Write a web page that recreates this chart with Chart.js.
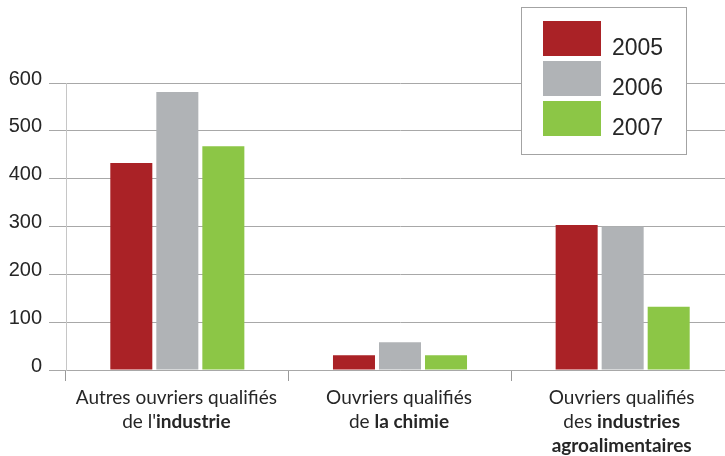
<!DOCTYPE html>
<html>
<head>
<meta charset="utf-8">
<script src="https://cdn.jsdelivr.net/npm/chart.js@4"></script>
<style>
  html, body { margin: 0; padding: 0; background: #fff; overflow: hidden; }
  #wrap { width: 736px; height: 456px; }
</style>
</head>
<body>
<div id="wrap"><canvas id="chart"></canvas></div>
<script>
// categories, bold parts between *stars*
const categories = [
    ["Autres ouvriers qualifiés", "de l'*industrie*"],
    ["Ouvriers qualifiés", "de *la chimie*"],
    ["Ouvriers qualifiés", "des *industries*", "*agroalimentaires*"]
];
const years = ['2005', '2006', '2007'];
const values2005 = [433, 31, 303];
const values2006 = [581, 58, 300];
const values2007 = [468, 31, 132];
const yTicks = [0, 100, 200, 300, 400, 500, 600];
const colors = ['#aa2226', '#b0b3b6', '#8cc646'];

const labelFont = 'Lato, "Open Sans", sans-serif';
const textColor = '#262626';

// draws the category labels with mixed regular / bold parts
const categoryLabels = {
    id: 'categoryLabels',
    afterDraw(chart) {
        const ctx = chart.ctx;
        const xScale = chart.scales.x;
        ctx.save();
        ctx.fillStyle = textColor;
        ctx.textBaseline = 'alphabetic';
        ctx.textAlign = 'left';
        categories.forEach((lines, i) => {
            const cx = xScale.getPixelForValue(i) - 1;
            lines.forEach((line, k) => {
                const parts = line.split('*').map((t, j) => ({ text: t, bold: j % 2 === 1 })).filter(p => p.text);
                let total = 0;
                parts.forEach(p => {
                    ctx.font = (p.bold ? 'bold ' : '') + '19px ' + labelFont;
                    p.w = ctx.measureText(p.text).width;
                    total += p.w;
                });
                let x = cx - total / 2;
                const y = xScale.top + 34 + k * 24;
                parts.forEach(p => {
                    ctx.font = (p.bold ? 'bold ' : '') + '19px ' + labelFont;
                    ctx.fillText(p.text, x, y);
                    x += p.w;
                });
            });
        });
        ctx.restore();
    }
};

// boxed legend top right
const boxLegend = {
    id: 'boxLegend',
    afterDraw(chart) {
        const ctx = chart.ctx;
        ctx.save();
        ctx.fillStyle = '#fff';
        ctx.fillRect(521, 7, 165, 147);
        ctx.strokeStyle = '#a3a3a3';
        ctx.lineWidth = 1;
        ctx.strokeRect(521.5, 7.5, 165, 147);
        ctx.font = '23px "Liberation Sans", Arial, sans-serif';
        ctx.textBaseline = 'alphabetic';
        chart.data.datasets.forEach((ds, i) => {
            const top = 21 + i * 40;
            ctx.fillStyle = ds.backgroundColor;
            ctx.fillRect(543, top, 58, 35);
            ctx.fillStyle = textColor;
            ctx.fillText(ds.label, 612, top + 34);
        });
        ctx.restore();
    }
};

new Chart(document.getElementById('chart'), {
    type: 'bar',
    data: {
        labels: categories.map(lines => lines.join(' ').replace(/\*/g, '')),
        datasets: [
            { label: years[0], data: values2005, backgroundColor: colors[0] },
            { label: years[1], data: values2006, backgroundColor: colors[1] },
            { label: years[2], data: values2007, backgroundColor: colors[2] }
        ]
    },
    options: {
        responsive: true,
        maintainAspectRatio: false,
        animation: false,
        devicePixelRatio: 1,
        categoryPercentage: 0.62,
        barPercentage: 0.913,
        layout: { padding: { top: 83, right: 2, left: 0, bottom: 0 } },
        plugins: {
            legend: { display: false },
            tooltip: { enabled: false }
        },
        scales: {
            x: {
                grid: {
                    display: true,
                    drawOnChartArea: false,
                    tickLength: 11,
                    color: '#9a9a9a'
                },
                border: { display: true, color: '#a8a8a8' },
                ticks: { callback: () => '' },
                afterFit(scale) { scale.height = 86; }
            },
            y: {
                min: 0,
                max: 600,
                afterBuildTicks(scale) {
                    scale.ticks = yTicks.map(v => ({ value: v }));
                },
                grid: {
                    color: '#a8a8a8',
                    tickLength: 17
                },
                border: { display: true, color: '#c6c6c6' },
                ticks: {
                    padding: 7,
                    labelOffset: -4,
                    color: '#262626',
                    font: { family: '"Liberation Sans", Arial, sans-serif', size: 20 }
                },
                afterFit(scale) { scale.width = 66; }
            }
        }
    },
    plugins: [categoryLabels, boxLegend]
});
</script>
</body>
</html>
